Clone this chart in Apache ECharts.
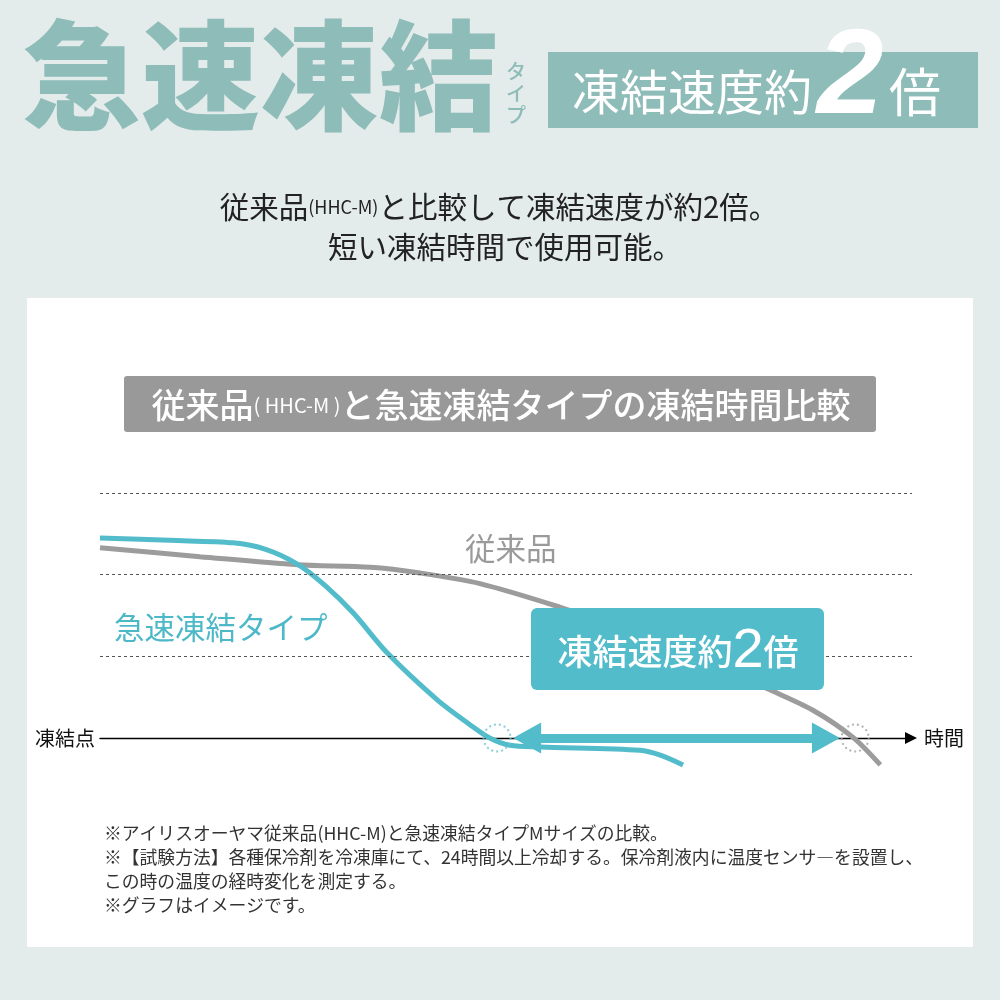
<!DOCTYPE html>
<html><head><meta charset="utf-8">
<script src="https://cdn.jsdelivr.net/npm/echarts@6.0.0/dist/echarts.min.js"></script>
<style>html,body{margin:0;padding:0;background:#e3ebeb}#c{width:1000px;height:1000px}</style>
</head><body><div id="c"></div>
<script>
// ---- data (time: arbitrary 0-100, temperature: arbitrary, 0 = freezing point) ----
const grayTime = [0, 12.3, 24.3, 33.3, 39.4, 46.8, 56.7, 64.0, 73.9, 82.5, 87.8, 92.7, 96.1];
const grayTemp = [2.33, 2.22, 2.12, 2.09, 2.02, 1.89, 1.60, 1.35, 0.98, 0.59, 0.34, 0.01, -0.33];
const tealTime = [0, 8.6, 16.4, 20.4, 24.3, 27.7, 31.2, 35.3, 41.5, 45.6, 48.0, 50.5, 54.2, 66.5, 69.0, 71.8];
const tealTemp = [2.45, 2.42, 2.39, 2.31, 2.13, 1.87, 1.53, 1.05, 0.47, 0.16, 0.0, -0.09, -0.11, -0.15, -0.21, -0.33];
const gridLevels = [1, 2, 3];
const freezeTimes = [48.9, 93.0];
const arrowSpan = [52.6, 89.4];
const seriesNames = ['従来品', '急速凍結タイプ'];
const axisNames = ['凍結点', '時間'];

const FONT = '"Noto Sans CJK JP", "Noto Sans", sans-serif';
const TEAL = '#52bccb';
const GRAY = '#9c9c9c';
const HEAD = '#8ebcb8';

const chart = echarts.init(document.getElementById('c'), null, {renderer: 'canvas'});

const zip = (a, b) => a.map((v, i) => [v, b[i]]);

const footnotes = [
  '※アイリスオーヤマ従来品(HHC-M)と急速凍結タイプMサイズの比較。',
  '※【試験方法】各種保冷剤を冷凍庫にて、24時間以上冷却する。保冷剤液内に温度センサ―を設置し、',
  'この時の温度の経時変化を測定する。',
  '※グラフはイメージです。'
];

const graphics = [
  {type: 'rect', z: -5, shape: {x: 27, y: 298, width: 946, height: 649}, style: {fill: '#ffffff'}},
  // big title
  {type: 'text', z: 1, style: {x: 22, y: 76, text: '急速凍結', fill: HEAD, font: '900 119px ' + FONT, verticalAlign: 'middle', align: 'left'}},
  {type: 'text', z: 1, style: {x: 516, y: 93, text: 'タ\nイ\nプ', fill: HEAD, font: '500 20px ' + FONT, lineHeight: 22, verticalAlign: 'middle', align: 'center'}},
  // header box
  {type: 'rect', z: 1, shape: {x: 548, y: 52, width: 430, height: 76}, style: {fill: HEAD}},
  {type: 'text', z: 2, style: {x: 572, y: 92, text: '凍結速度約', fill: '#fff', font: '400 48px ' + FONT, verticalAlign: 'middle', align: 'left'}},
  {type: 'text', z: 2, style: {x: 850, y: 80, text: '2', fill: '#fff', font: 'italic bold 120px "Liberation Sans", sans-serif', verticalAlign: 'middle', align: 'center'}},
  {type: 'text', z: 2, style: {x: 889, y: 92, text: '倍', fill: '#fff', font: '400 52px ' + FONT, verticalAlign: 'middle', align: 'left'}},
  // subtitle
  {type: 'text', z: 1, style: {x: 499, y: 207, text: '{a|従来品}{b|(HHC-M)}{a|と比較して凍結速度が約2倍。}', align: 'center', verticalAlign: 'middle',
    rich: {a: {font: '400 29.5px ' + FONT, fill: '#222'}, b: {font: '400 18px ' + FONT, fill: '#222'}}}},
  {type: 'text', z: 1, style: {x: 505, y: 247, text: '短い凍結時間で使用可能。', fill: '#222', font: '400 29.5px ' + FONT, align: 'center', verticalAlign: 'middle'}},
  // chart title
  {type: 'rect', z: 1, shape: {x: 124, y: 376, width: 752, height: 56, r: 3}, style: {fill: '#999999'}},
  {type: 'text', z: 2, style: {x: 501, y: 405, text: '{a|従来品}{b|( HHC-M )}{a|と急速凍結タイプの凍結時間比較}', align: 'center', verticalAlign: 'middle',
    rich: {a: {font: '500 34px ' + FONT, fill: '#fff'}, b: {font: '400 20px ' + FONT, fill: '#fff'}}}},
  // series labels
  {type: 'text', z: 1, style: {x: 465, y: 548, text: seriesNames[0], fill: '#9a9a9a', font: '400 30.5px ' + FONT, align: 'left', verticalAlign: 'middle'}},
  {type: 'text', z: 1, style: {x: 114, y: 627, text: seriesNames[1], fill: '#4db8c7', font: '400 30.5px ' + FONT, align: 'left', verticalAlign: 'middle'}},
  // callout box
  {type: 'rect', z: 10, shape: {x: 531, y: 608, width: 293, height: 82, r: 6}, style: {fill: TEAL}},
  {type: 'text', z: 11, style: {x: 678, y: 652, text: '{a|凍結速度約}{b|2}{a|倍}', align: 'center', verticalAlign: 'middle',
    rich: {a: {font: '500 35px ' + FONT, fill: '#fff'}, b: {font: '500 56px "Liberation Sans", ' + FONT, fill: '#fff'}}}},
];
footnotes.forEach((t, i) => {
  graphics.push({type: 'text', z: 1, style: {x: 104, y: 833 + i * 24, text: t, fill: '#333', font: '400 17.8px ' + FONT, align: 'left', verticalAlign: 'middle'}});
});

const option = {
  animation: false,
  backgroundColor: '#e3ebeb',
  grid: {left: 100, right: 88, top: 493, bottom: 221.2, containLabel: false},
  xAxis: {
    type: 'value', min: 0, max: 100,
    axisLine: {show: true, onZero: true, symbol: ['none', 'triangle'], symbolSize: [12, 12], symbolOffset: [0, -1], lineStyle: {color: '#000', width: 1.3}},
    axisTick: {show: false}, axisLabel: {show: false}, splitLine: {show: false},
    name: axisNames[1], nameLocation: 'end', nameGap: 12,
    nameTextStyle: {color: '#111', fontSize: 20, fontFamily: FONT, verticalAlign: 'middle'}
  },
  yAxis: {
    type: 'value', min: -0.5, max: 3, interval: 0.5,
    axisLine: {show: false}, axisTick: {show: false}, splitLine: {show: false},
    axisLabel: {show: true, margin: 5, color: '#111', fontSize: 20, fontFamily: FONT,
      formatter: v => (v === 0 ? axisNames[0] : '')}
  },
  graphic: graphics,
  series: [
    {
      name: seriesNames[0], type: 'line', data: zip(grayTime, grayTemp), smooth: 0.3,
      symbol: 'none', clip: false, z: 2, silent: true,
      lineStyle: {color: GRAY, width: 5},
      markLine: {silent: true, symbol: 'none', label: {show: false},
        lineStyle: {color: '#555', type: [3, 3], width: 1},
        data: gridLevels.map(v => ({yAxis: v}))}
    },
    {
      name: seriesNames[1], type: 'line', data: zip(tealTime, tealTemp), smooth: 0.3,
      symbol: 'none', clip: false, z: 3, silent: true,
      lineStyle: {color: TEAL, width: 5}
    },
    {
      type: 'scatter', z: 4, silent: true, symbolSize: 27,
      data: freezeTimes.map((t, i) => ({value: [t, 0], itemStyle: {borderColor: i === 0 ? '#6cc3cf' : '#a0a0a0'}})),
      itemStyle: {color: 'rgba(0,0,0,0)', borderWidth: 2, borderType: [2, 3]}
    },
    {
      type: 'line', data: [], z: 5, silent: true,
      markLine: {silent: true, symbol: ['triangle', 'triangle'], symbolSize: [31, 28], label: {show: false},
        lineStyle: {color: TEAL, width: 9, type: 'solid', opacity: 1},
        data: [[{coord: [arrowSpan[0], 0]}, {coord: [arrowSpan[1], 0]}]]}
    }
  ]
};
chart.setOption(option);
</script></body></html>
